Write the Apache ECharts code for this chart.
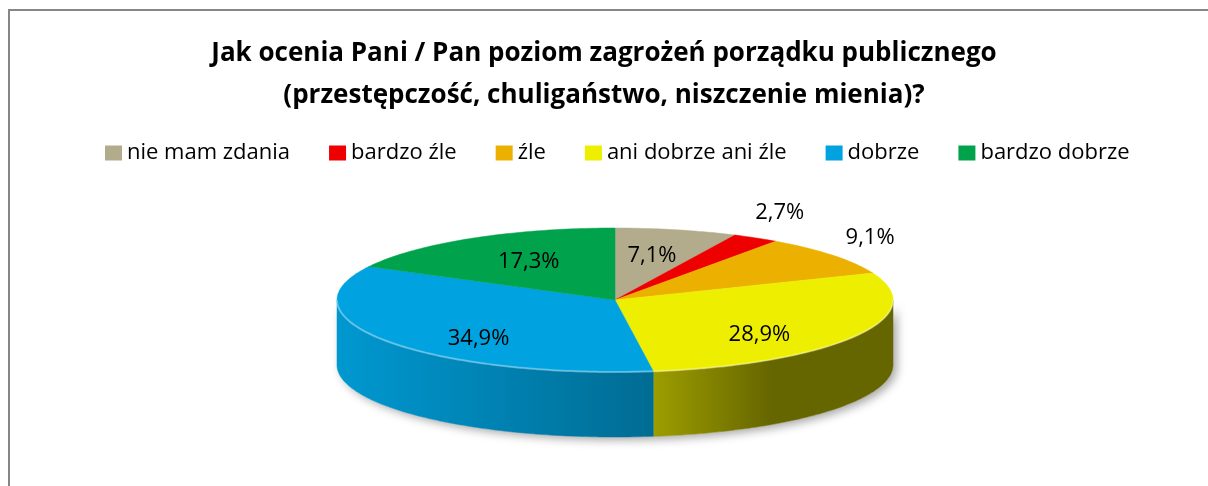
<!DOCTYPE html>
<html style="height: 100%">
<head>
<meta charset="utf-8">
<script src="https://cdn.jsdelivr.net/npm/echarts@6/dist/echarts.min.js"></script>
</head>
<body style="height: 100%; margin: 0; background: #fff">
<div id="container" style="width: 1208px; height: 486px"></div>
<script type="text/javascript">
var categories = ['nie mam zdania', 'bardzo źle', 'źle', 'ani dobrze ani źle', 'dobrze', 'bardzo dobrze'];
var values = [7.1, 2.7, 9.1, 28.9, 34.9, 17.3];
var colors = ['#B3AC8C', '#EE0000', '#EBB000', '#EEEE00', '#00A3E0', '#00A24C'];
// small slices whose labels sit outside the pie
var outsideLabels = ['bardzo źle', 'źle'];

// 3D pie geometry (ellipse of the top face, wall height)
var pie = { cx: 615, cy: 300, rx: 278, ry: 72, depth: 65 };

var total = values.reduce(function (a, b) { return a + b; }, 0);
var starts = [];
var acc = 0;
for (var i = 0; i < values.length; i++) {
    starts.push(acc);
    acc += values[i];
}

function pt(a, k, dy) {
    return [pie.cx + pie.rx * k * Math.sin(a), pie.cy - pie.ry * k * Math.cos(a) + (dy || 0)];
}

function arc(a0, a1, dy) {
    var pts = [];
    var n = Math.max(2, Math.ceil((a1 - a0) / (Math.PI / 180)));
    for (var j = 0; j <= n; j++) {
        pts.push(pt(a0 + (a1 - a0) * j / n, 1, dy));
    }
    return pts;
}

function shade(hex, f) {
    var r = parseInt(hex.substr(1, 2), 16), g = parseInt(hex.substr(3, 2), 16), b = parseInt(hex.substr(5, 2), 16);
    return 'rgb(' + Math.round(r * f) + ',' + Math.round(g * f) + ',' + Math.round(b * f) + ')';
}

function sideGradient(hex) {
    return {
        type: 'linear', global: true,
        x: pie.cx - pie.rx, y: 0, x2: pie.cx + pie.rx, y2: 0,
        colorStops: [
            { offset: 0, color: shade(hex, 0.93) },
            { offset: 0.57, color: shade(hex, 0.66) },
            { offset: 0.78, color: shade(hex, 0.43) },
            { offset: 1, color: shade(hex, 0.43) }
        ]
    };
}

function makeRender(i) {
    return function (params, api) {
        var a0 = starts[i] / total * 2 * Math.PI;
        var a1 = (starts[i] + values[i]) / total * 2 * Math.PI;
        var children = [];
        if (i === 0) {
            // soft shadow under the whole front wall
            var front = arc(Math.PI / 2, 3 * Math.PI / 2, 0);
            var frontBottom = arc(Math.PI / 2, 3 * Math.PI / 2, pie.depth).reverse();
            children.push({
                type: 'polygon', z2: 0,
                shape: { points: front.concat(frontBottom) },
                style: { fill: '#fff', shadowBlur: 10, shadowColor: 'rgba(0,0,0,0.35)', shadowOffsetX: 4, shadowOffsetY: 3 }
            });
        }
        var s0 = Math.max(a0, Math.PI / 2), s1 = Math.min(a1, 3 * Math.PI / 2);
        if (s1 > s0) {
            var top = arc(s0, s1, 0);
            var bottom = arc(s0, s1, pie.depth).reverse();
            children.push({
                type: 'polygon', z2: 1,
                shape: { points: top.concat(bottom) },
                style: { fill: sideGradient(colors[i]), stroke: sideGradient(colors[i]), lineWidth: 0.5 }
            });
            children.push({
                type: 'polyline', z2: 12,
                shape: { points: top },
                style: { stroke: 'rgba(255,255,255,0.35)', lineWidth: 2, fill: null }
            });
        }
        children.push({
            type: 'polygon', z2: 10,
            shape: { points: [[pie.cx, pie.cy]].concat(arc(a0, a1, 0)) },
            style: { fill: colors[i], stroke: colors[i], lineWidth: 0.5 }
        });
        var mid = (a0 + a1) / 2;
        var out = outsideLabels.indexOf(categories[i]) >= 0;
        var lx = pie.cx + pie.rx * (out ? 1.17 : 0.6) * Math.sin(mid);
        var ly = pie.cy - pie.ry * (out ? 1.4 : 0.75) * Math.cos(mid) + (out ? 0 : 8);
        children.push({
            type: 'text', z2: 20,
            style: {
                text: values[i].toFixed(1).replace('.', ',') + '%',
                x: lx, y: ly, align: 'center', verticalAlign: 'middle',
                fontSize: 22, fontFamily: 'Open Sans', fill: '#000'
            }
        });
        return { type: 'group', children: children };
    };
}

var dom = document.getElementById('container');
var myChart = echarts.init(dom);
var option = {
    backgroundColor: '#fff',
    color: colors,
    animation: false,
    title: {
        text: 'Jak ocenia Pani / Pan poziom zagrożeń porządku publicznego\n(przestępczość, chuligaństwo, niszczenie mienia)?',
        left: 'center',
        top: 33,
        padding: [0, 0, 0, 8],
        textStyle: { fontFamily: 'Open Sans', fontSize: 26, fontWeight: 'bold', color: '#000', lineHeight: 42 }
    },
    legend: {
        data: categories,
        top: 142,
        left: 105,
        padding: 0,
        icon: 'rect',
        itemWidth: 17,
        itemHeight: 15,
        itemGap: 39,
        textStyle: { fontFamily: 'Open Sans', fontSize: 22, color: '#000' }
    },
    graphic: [{
        type: 'rect',
        shape: { x: 9, y: 10, width: 1300, height: 600 },
        style: { fill: null, stroke: '#868686', lineWidth: 2 }
    }],
    series: categories.map(function (name, i) {
        return {
            name: name,
            type: 'custom',
            coordinateSystem: 'none',
            silent: true,
            itemStyle: { color: colors[i] },
            renderItem: makeRender(i),
            data: [values[i]]
        };
    })
};
myChart.setOption(option);
</script>
</body>
</html>
